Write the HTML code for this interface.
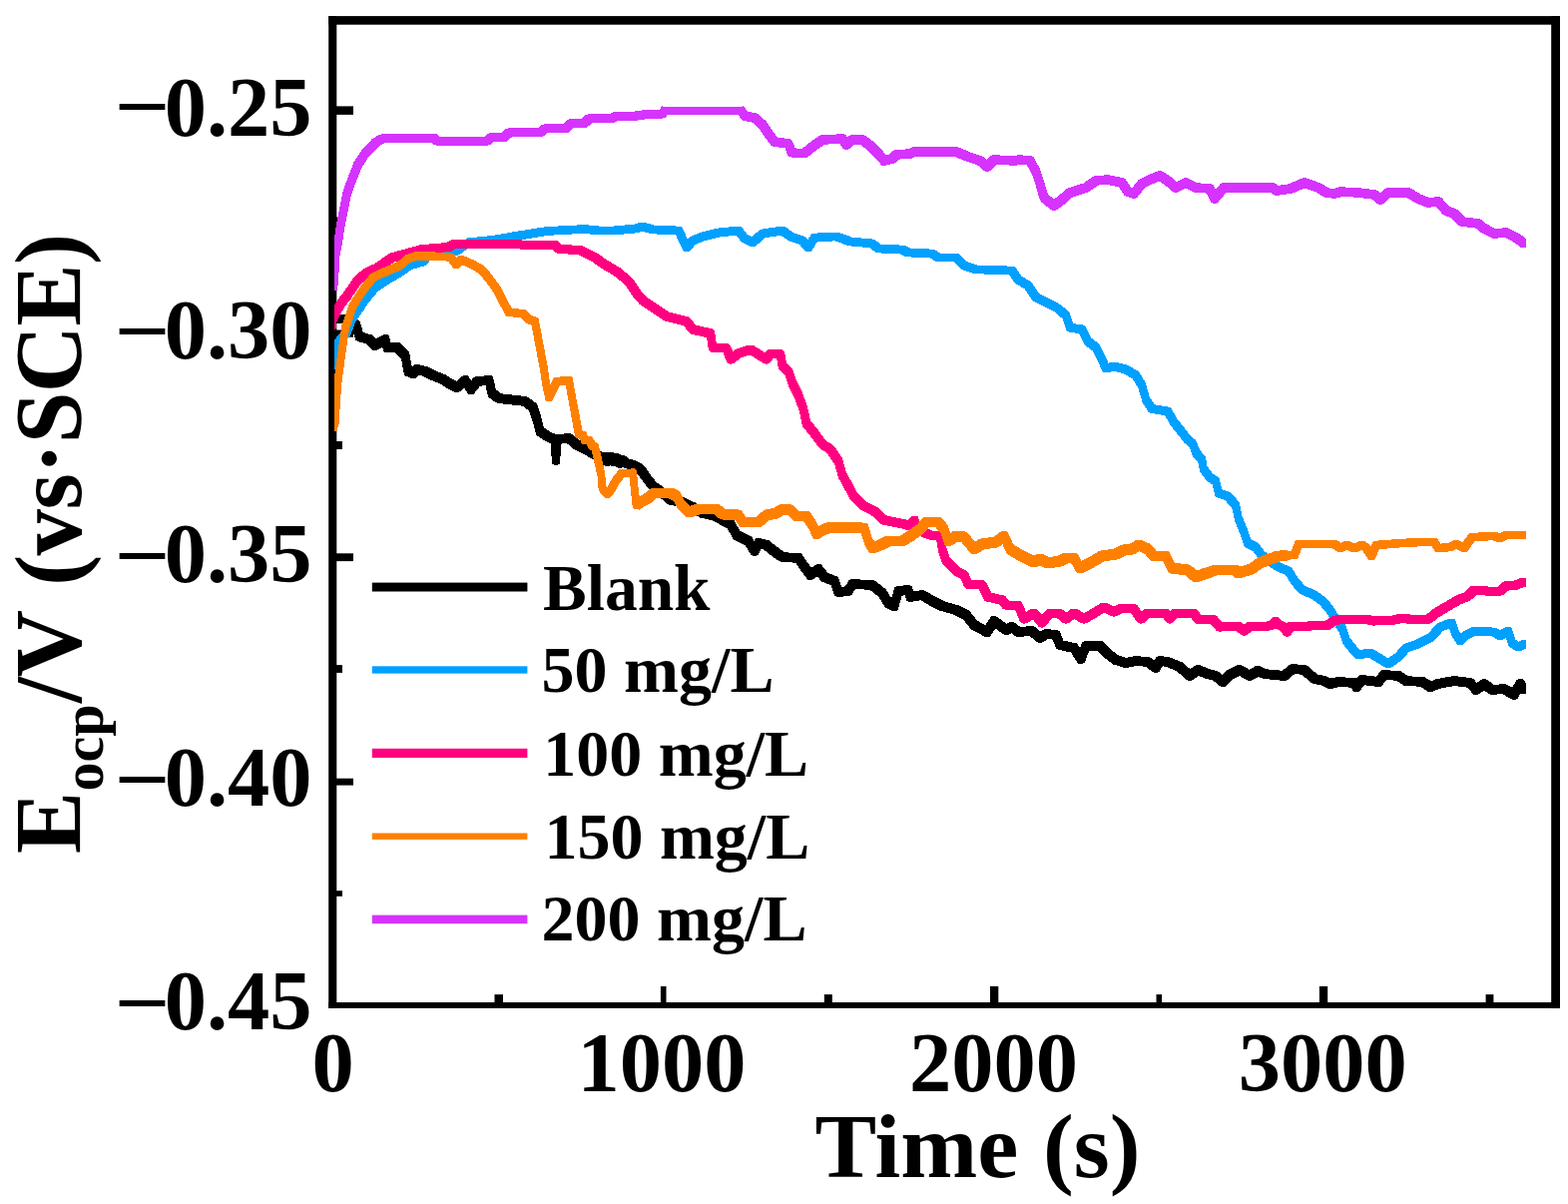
<!DOCTYPE html>
<html lang="en"><head><meta charset="utf-8"><title>OCP vs time</title>
<style>
html,body{margin:0;padding:0;background:#fff;}
body{width:1571px;height:1206px;overflow:hidden;}
svg{display:block;}
text{font-family:"Liberation Serif","DejaVu Serif",serif;font-weight:bold;fill:#000;}
.c{fill:none;stroke-linejoin:miter;stroke-miterlimit:2;stroke-linecap:butt;}
</style></head><body>
<svg width="1571" height="1206" viewBox="0 0 1571 1206">
<rect x="0" y="0" width="1571" height="1206" fill="#fff"/>
<g fill="#000">
<rect x="329.2" y="16.1" width="8.1" height="993.8"/>
<rect x="1554.2" y="16.1" width="8.8" height="993.8"/>
<rect x="329.2" y="16.1" width="1233.8" height="8.6"/>
<rect x="329.2" y="1004.0" width="1233.8" height="5.9"/>
<rect x="336.3" y="106.4" width="17.7" height="8.5"/>
<rect x="336.3" y="330.5" width="17.7" height="7.2"/>
<rect x="336.3" y="554.3" width="17.7" height="7.8"/>
<rect x="336.3" y="779.7" width="17.7" height="6.9"/>
<rect x="336.3" y="217.5" width="6.7" height="6"/>
<rect x="336.3" y="442" width="6.7" height="8"/>
<rect x="336.3" y="666.1" width="6.7" height="7.8"/>
<rect x="336.3" y="892.2" width="6.7" height="5.6"/>
<rect x="661.9" y="987.9" width="5.6" height="17.1"/>
<rect x="992.0" y="987.9" width="8.3" height="17.1"/>
<rect x="1321.9" y="987.9" width="8.3" height="17.1"/>
<rect x="495.5" y="996.1" width="8.5" height="8.9"/>
<rect x="825.8" y="996.1" width="8" height="8.9"/>
<rect x="1158.5" y="996.1" width="5.6" height="8.9"/>
<rect x="1488.6" y="996.1" width="7.8" height="8.9"/>
</g>
<g shape-rendering="crispEdges" fill-rule="evenodd" stroke="none">
<path fill="#000000" d="M1526.6,681.3L1525.6,680.5L1524.4,680.2L1521.6,680.2L1520.2,680.6L1519.1,681.7L1515.2,688.8L1509.8,685.6L1508.4,685.2L1505.4,685.2L1496.9,685.9L1490.1,680.8L1488.4,680.2L1485.6,680.2L1483.9,680.8L1479.7,683.9L1476.5,680.2L1474.7,679.2L1458.7,677.2L1455.6,677.2L1439.1,680.2L1433.7,682.2L1427.9,678.6L1426.6,678.2L1411.3,677.3L1403.9,672.6L1402.6,672.2L1388.4,671.2L1385.6,671.2L1384.4,671.5L1383.5,672.2L1378.7,677.7L1366.7,676.2L1363.6,676.2L1362.4,676.5L1361.5,677.2L1359.5,679.5L1358.6,679.2L1342.6,678.2L1339.6,678.2L1333.8,679.6L1328.9,677.3L1319.7,675.4L1310.3,666.9L1308.6,666.2L1296.4,665.2L1293.6,665.2L1291.8,665.9L1285.0,671.8L1269.1,670.3L1262.5,667.4L1261.4,667.2L1258.6,667.2L1257.1,667.6L1251.9,670.9L1244.8,666.6L1243.4,666.2L1240.6,666.2L1239.4,666.5L1229.4,671.5L1228.6,672.0L1224.7,675.9L1221.2,672.9L1220.1,672.3L1212.2,670.3L1202.4,666.4L1201.4,666.2L1198.6,666.2L1196.9,666.8L1192.3,670.2L1185.3,663.9L1184.5,663.4L1171.7,658.2L1163.7,657.2L1160.6,657.2L1159.2,657.6L1158.2,658.6L1156.6,661.4L1153.1,658.8L1151.6,658.2L1139.6,657.2L1136.6,657.2L1128.4,658.8L1120.7,656.5L1113.2,650.9L1105.4,643.0L1104.5,642.4L1103.4,642.2L1086.6,642.2L1085.0,642.7L1084.0,644.0L1082.0,649.1L1079.8,645.5L1079.0,644.7L1078.0,644.3L1065.4,641.6L1062.0,633.0L1061.1,631.8L1059.7,631.2L1049.7,630.2L1046.6,630.2L1045.1,630.7L1042.4,632.4L1037.2,627.9L1035.4,627.2L1032.4,627.2L1022.1,627.9L1017.2,623.9L1015.4,623.2L1012.6,623.2L1011.4,623.5L1008.6,624.9L999.1,617.8L997.4,617.2L994.6,617.2L993.3,617.5L992.2,618.5L987.4,626.2L979.2,621.8L971.6,612.3L970.6,611.5L960.2,606.3L946.4,602.4L936.7,597.5L926.8,591.6L925.4,591.2L922.6,591.2L915.3,592.4L914.1,588.2L913.1,586.8L911.4,586.2L908.3,586.2L898.3,587.2L896.8,587.9L895.9,589.3L893.2,599.5L887.8,590.6L887.1,589.8L877.1,581.8L875.5,581.2L855.5,580.2L852.6,580.2L851.2,580.6L850.2,581.6L846.9,587.4L843.2,587.7L840.0,579.1L839.4,578.1L838.4,577.4L829.2,573.7L823.6,566.3L822.6,565.5L821.4,565.2L818.6,565.2L816.9,565.8L813.0,568.8L809.7,564.4L803.7,555.5L802.8,554.6L801.6,554.2L786.3,553.3L781.0,549.7L771.1,541.8L770.1,541.3L762.1,539.3L758.6,539.2L757.1,539.6L756.1,540.8L755.6,541.7L753.8,538.6L752.6,537.5L741.4,531.9L735.9,521.7L734.6,520.5L726.7,516.5L718.8,512.1L718.0,511.8L706.4,509.4L696.8,503.6L692.6,502.0L684.8,497.6L683.5,497.2L675.5,496.8L667.2,489.9L657.4,482.7L652.3,476.3L646.2,467.4L645.6,466.8L640.4,462.9L635.4,460.9L630.7,459.9L627.2,456.9L625.4,456.2L622.6,456.2L622.3,456.3L621.8,455.6L620.8,454.6L619.4,454.2L616.0,454.3L614.8,453.1L613.4,452.7L610.6,452.7L609.3,453.0L609.0,453.3L608.7,453.0L607.4,452.7L604.6,452.7L603.3,453.1L602.6,452.5L595.7,449.1L587.6,444.5L579.9,440.7L573.2,434.9L571.4,434.2L568.4,434.2L557.6,435.1L552.6,433.5L544.9,428.3L542.1,417.1L538.1,405.1L537.1,403.8L529.1,397.8L527.7,397.2L502.4,394.3L496.9,390.3L494.1,378.4L493.6,377.3L492.6,376.5L491.4,376.2L488.4,376.2L476.4,377.2L475.3,377.6L474.4,378.3L472.2,381.2L469.7,377.5L468.7,376.5L467.4,376.2L464.6,376.2L462.8,376.9L457.2,381.8L452.8,379.6L446.4,375.4L436.5,371.4L428.1,367.3L420.1,365.3L416.6,365.2L415.5,365.4L414.6,366.0L412.8,367.8L410.2,353.5L409.4,352.0L401.4,344.0L400.5,343.4L399.4,343.2L391.6,343.2L390.1,337.3L389.6,336.2L388.6,335.5L387.4,335.2L384.6,335.2L383.2,335.6L376.8,339.4L373.4,336.0L372.2,335.3L363.7,332.8L361.1,323.3L360.3,321.9L355.3,317.4L354.2,316.8L346.4,314.5L335.0,314.5L335.0,324.1L343.2,324.1L349.2,326.0L353.1,329.5L355.9,339.7L356.6,340.9L357.8,341.7L367.1,344.5L372.6,350.0L373.5,350.6L374.6,350.8L377.4,350.8L378.8,350.4L383.2,347.8L383.9,350.7L384.4,351.8L385.4,352.5L386.6,352.8L395.5,352.8L402.0,359.4L404.8,374.5L405.4,375.8L406.6,376.6L411.6,378.6L412.6,378.8L415.4,378.8L416.5,378.6L417.4,378.0L419.7,375.7L423.6,376.6L431.6,380.6L441.3,384.5L447.4,388.5L455.4,392.5L456.6,392.8L459.4,392.8L461.2,392.1L465.1,388.7L468.3,393.5L469.3,394.5L470.6,394.8L473.4,394.8L474.6,394.5L475.6,393.7L480.9,386.7L486.5,386.2L488.9,396.6L490.0,398.3L497.0,403.3L498.3,403.8L523.5,406.7L530.2,411.7L533.9,422.8L536.9,434.7L538.1,436.3L547.1,442.3L551.9,444.0L552.8,463.1L553.2,464.5L554.3,465.4L555.6,465.8L558.4,465.8L559.7,465.4L560.8,464.5L561.2,463.1L562.1,444.6L567.9,444.1L574.4,449.5L582.3,453.5L590.4,458.1L596.7,461.2L599.3,465.0L600.3,466.0L601.6,466.3L604.4,466.3L605.7,465.9L606.3,466.5L607.6,466.8L610.4,466.8L611.7,466.4L612.2,466.9L613.6,467.3L617.0,467.2L618.2,468.4L619.6,468.8L622.4,468.8L624.2,468.1L624.8,468.6L626.1,469.2L630.8,470.2L635.2,471.9L639.0,474.9L645.1,483.7L650.9,490.9L660.9,498.2L669.8,505.6L671.5,506.3L679.8,506.8L687.2,510.9L691.4,512.5L701.2,518.4L702.0,518.7L713.6,521.2L721.2,525.4L728.6,529.1L734.1,539.3L735.4,540.5L746.6,546.1L752.2,555.4L753.2,556.4L754.6,556.8L757.4,556.8L758.9,556.4L759.9,555.2L762.6,549.9L765.3,550.6L774.9,558.2L781.1,562.3L782.4,562.8L797.1,563.7L802.4,571.7L808.4,579.7L809.4,580.5L810.6,580.8L813.4,580.8L815.1,580.2L819.0,577.2L822.4,581.7L823.6,582.6L832.4,586.1L836.0,595.9L837.0,597.3L838.6,597.8L841.7,597.8L851.7,596.8L852.9,596.3L853.8,595.4L856.9,590.0L871.6,590.8L880.5,597.9L886.2,607.4L887.4,608.5L893.4,611.5L894.6,611.8L897.4,611.8L898.6,611.5L899.5,610.8L900.1,609.7L903.6,596.6L906.6,596.3L907.9,600.8L908.9,602.2L910.6,602.8L913.4,602.8L922.7,601.3L931.4,606.5L941.4,611.5L955.6,615.6L964.8,620.2L972.4,629.7L973.3,630.5L986.3,637.5L987.6,637.8L990.4,637.8L991.7,637.5L992.8,636.5L997.2,629.5L1004.9,635.2L1006.6,635.8L1009.4,635.8L1010.6,635.5L1013.3,634.2L1016.8,637.1L1018.6,637.8L1021.6,637.8L1031.9,637.1L1038.8,643.1L1040.6,643.8L1043.4,643.8L1044.9,643.3L1049.7,640.1L1054.6,640.6L1058.0,649.0L1058.8,650.1L1060.0,650.7L1072.9,653.5L1079.2,663.5L1080.3,664.5L1081.6,664.8L1084.4,664.8L1086.0,664.3L1087.0,663.0L1091.3,651.8L1099.5,651.8L1106.6,659.0L1114.9,665.2L1115.8,665.7L1125.8,668.7L1129.9,668.7L1138.7,667.0L1147.6,667.7L1154.9,673.2L1156.6,673.8L1159.4,673.8L1160.8,673.4L1161.8,672.4L1164.7,667.3L1167.9,667.7L1179.1,672.4L1188.7,681.1L1190.6,681.8L1193.4,681.8L1195.1,681.2L1200.8,676.9L1207.9,679.7L1215.3,681.6L1221.8,687.1L1223.6,687.8L1226.4,687.8L1227.5,687.6L1228.4,687.0L1235.0,680.3L1241.8,676.9L1249.2,681.4L1250.6,681.8L1253.4,681.8L1254.9,681.4L1260.5,677.9L1265.3,679.8L1285.3,681.8L1288.4,681.8L1290.2,681.1L1297.1,675.1L1304.4,675.7L1313.7,684.1L1315.1,684.7L1324.7,686.7L1330.4,689.5L1331.6,689.8L1335.1,689.7L1342.1,688.0L1353.8,688.7L1355.1,691.2L1356.1,692.4L1357.6,692.8L1360.4,692.8L1361.6,692.5L1362.5,691.8L1367.3,686.3L1379.3,687.8L1382.4,687.8L1383.6,687.5L1384.5,686.8L1389.4,681.1L1398.7,681.7L1406.1,686.4L1407.4,686.8L1422.7,687.7L1430.1,692.4L1431.6,692.8L1434.4,692.8L1435.4,692.6L1443.1,689.7L1457.4,687.0L1470.2,688.6L1475.5,694.8L1476.4,695.5L1477.6,695.8L1480.4,695.8L1482.1,695.2L1487.0,691.5L1491.9,695.2L1493.6,695.8L1496.6,695.8L1505.3,695.1L1514.2,700.4L1515.6,700.8L1518.4,700.8L1519.8,700.4L1520.9,699.3L1523.8,694.0L1524.4,694.5L1525.6,694.8L1528.4,694.8L1529.3,694.6L1529.3,684.7Z"/>
<path fill="#00A0FF" d="M515.2,232.2L498.3,235.2L482.4,237.2L469.4,238.2L468.4,238.5L462.4,242.0L455.7,246.8L426.1,252.8L424.7,253.6L421.2,258.0L408.0,261.8L407.2,262.1L397.3,269.1L385.3,276.1L373.3,284.1L362.1,297.3L356.9,305.3L351.3,313.3L348.0,318.5L346.3,324.3L343.6,330.7L338.6,335.7L335.0,341.0L335.0,370.3L336.5,370.0L337.3,369.3L337.8,368.2L339.3,358.4L342.1,346.9L345.2,342.4L350.1,337.6L350.6,336.8L353.6,329.8L355.3,323.9L363.7,311.8L368.8,303.8L379.0,291.7L390.7,283.9L402.8,276.9L412.4,270.1L426.0,266.2L427.3,265.4L430.7,261.1L459.8,255.3L460.8,254.8L467.7,249.9L473.1,246.8L485.7,245.8L501.7,243.8L518.8,240.8L549.6,235.8L584.5,233.9L598.6,235.3L615.4,235.3L638.6,233.3L643.9,231.8L652.5,234.3L677.0,235.2L680.5,243.0L684.5,251.0L685.4,251.9L686.6,252.3L689.4,252.3L690.4,252.1L691.2,251.5L696.8,244.9L706.1,241.2L721.8,237.3L737.7,235.7L742.7,242.3L743.5,243.0L751.5,247.0L752.6,247.3L755.4,247.3L757.0,246.7L766.5,238.2L782.4,235.8L789.9,241.2L801.2,245.0L806.8,251.5L807.6,252.1L808.6,252.3L811.4,252.3L812.6,252.0L813.5,251.1L818.8,242.2L836.6,241.4L850.4,246.3L871.7,248.2L877.1,252.7L878.5,253.3L902.0,254.3L907.5,257.0L908.5,257.3L931.8,258.3L937.3,261.9L938.6,262.3L955.6,262.3L962.9,269.6L963.9,270.2L975.9,274.2L1011.3,275.3L1016.6,283.2L1017.4,284.0L1026.9,289.7L1034.6,301.2L1035.5,302.0L1057.3,312.9L1064.5,319.3L1068.3,330.6L1069.0,331.7L1070.2,332.3L1081.0,334.1L1086.5,345.0L1087.2,345.8L1094.7,351.5L1100.4,362.9L1104.4,371.9L1105.3,372.9L1106.6,373.3L1109.4,373.3L1116.0,371.7L1125.7,374.1L1134.9,379.6L1140.4,388.8L1144.6,403.2L1150.6,412.7L1151.3,413.4L1152.3,413.8L1167.1,416.1L1172.2,425.4L1180.2,435.4L1186.2,443.3L1191.6,447.8L1194.8,456.7L1195.3,457.5L1200.4,463.0L1202.2,472.4L1202.7,473.3L1208.7,481.3L1209.3,481.9L1214.5,485.4L1217.3,496.5L1217.8,497.5L1218.9,498.2L1227.2,501.0L1234.4,509.0L1237.4,522.8L1242.4,534.7L1246.3,546.6L1247.5,548.0L1255.0,551.8L1261.2,559.8L1269.3,565.9L1278.3,571.9L1288.0,575.8L1293.8,585.5L1301.8,594.5L1302.7,595.1L1314.4,600.0L1322.0,605.7L1328.7,613.3L1334.6,623.3L1341.4,633.0L1345.3,644.6L1345.7,645.4L1353.7,655.4L1357.9,659.6L1358.7,660.1L1359.6,660.3L1362.4,660.3L1371.7,658.8L1388.3,668.9L1389.6,669.3L1392.4,669.3L1393.8,668.9L1403.8,661.9L1411.8,653.0L1423.5,649.0L1436.5,642.0L1437.2,641.5L1445.8,632.0L1451.9,629.8L1454.6,637.2L1459.6,645.2L1460.4,646.0L1461.6,646.3L1464.4,646.3L1465.3,646.1L1466.1,645.6L1471.8,639.9L1478.6,636.5L1494.8,637.3L1500.3,640.9L1501.6,641.3L1504.4,641.3L1505.7,640.9L1508.8,639.0L1511.3,646.6L1512.3,647.9L1518.3,651.9L1519.6,652.3L1522.4,652.3L1523.3,652.1L1529.3,649.5L1529.3,640.7L1526.6,640.7L1525.7,640.9L1521.6,642.7L1518.4,640.6L1514.7,629.4L1513.8,628.2L1512.4,627.7L1509.6,627.7L1508.3,628.1L1503.1,631.4L1499.7,629.1L1498.5,628.7L1478.5,627.7L1475.6,627.7L1474.5,628.0L1466.5,632.0L1463.8,634.6L1461.6,631.1L1458.2,621.3L1457.3,620.1L1455.9,619.7L1453.1,619.7L1452.3,619.8L1440.8,623.8L1439.8,624.5L1431.1,634.2L1418.7,640.9L1406.9,644.8L1405.8,645.5L1398.0,654.3L1390.8,659.3L1375.6,650.0L1374.4,649.7L1371.2,649.7L1362.8,651.1L1360.2,648.5L1352.5,638.9L1348.4,626.7L1341.4,616.8L1335.5,606.9L1328.2,598.5L1319.3,591.9L1307.8,587.1L1300.3,578.7L1294.5,568.9L1293.3,567.9L1283.5,564.0L1274.8,558.1L1267.1,552.4L1261.3,544.7L1260.5,544.0L1253.4,540.4L1249.6,529.2L1244.7,517.4L1241.7,503.6L1241.2,502.5L1233.2,493.5L1232.1,492.8L1224.4,490.2L1221.7,479.5L1220.7,478.1L1215.1,474.3L1209.6,467.1L1207.8,457.6L1207.2,456.5L1202.0,450.8L1198.7,441.8L1197.9,440.7L1192.6,436.4L1186.8,428.6L1178.9,418.8L1173.5,409.0L1172.8,408.1L1171.7,407.7L1156.8,405.4L1151.6,397.1L1147.7,383.5L1141.5,372.9L1140.6,372.0L1130.0,365.8L1117.4,362.7L1114.0,362.8L1110.5,363.7L1107.5,357.0L1101.5,345.0L1100.8,344.2L1093.3,338.5L1087.5,327.0L1086.8,326.2L1085.8,325.7L1075.2,324.0L1071.7,313.4L1071.0,312.3L1062.5,305.0L1041.0,294.2L1033.4,282.8L1032.6,282.0L1023.1,276.3L1017.4,267.8L1016.5,267.0L1015.4,266.7L979.8,265.7L968.7,262.0L961.1,254.4L960.3,253.9L959.4,253.7L942.1,253.7L936.7,250.1L935.5,249.7L912.0,248.7L906.5,246.0L905.5,245.7L882.3,244.7L876.9,240.3L875.6,239.7L853.9,237.7L840.2,232.8L839.4,232.7L814.5,233.7L813.4,234.0L812.5,234.9L809.4,240.1L807.2,237.5L806.1,236.8L794.5,232.9L786.8,227.2L785.4,226.7L782.3,226.7L762.3,229.7L761.0,230.3L753.2,237.3L749.0,235.2L743.3,227.7L742.5,227.0L741.4,226.7L738.4,226.7L718.4,228.7L701.7,232.9L691.7,236.9L690.8,237.5L688.9,239.7L683.6,228.1L682.7,227.1L681.5,226.7L655.8,225.7L645.4,222.7L642.0,222.8L635.2,224.7L612.5,226.7L601.5,226.7L586.6,225.2L583.6,225.2L546.5,227.2Z"/>
<path fill="#FF0080" d="M1528.4,578.5L1525.6,578.5L1524.7,578.6L1517.0,581.5L1507.3,582.5L1505.8,583.1L1500.6,587.5L1490.5,587.5L1478.4,586.5L1475.6,586.5L1474.6,586.7L1473.7,587.3L1468.1,592.9L1458.2,596.8L1436.2,609.8L1428.6,615.8L1417.9,616.3L1406.8,614.5L1403.6,614.5L1395.2,616.5L1378.0,617.3L1368.4,615.5L1340.6,616.0L1334.0,617.5L1333.0,618.0L1327.7,622.0L1291.5,623.0L1290.3,623.3L1289.2,624.3L1288.6,623.7L1284.9,621.9L1281.2,618.6L1279.4,618.0L1276.6,618.0L1274.8,618.6L1271.2,621.8L1269.1,622.5L1250.6,623.0L1248.9,623.6L1246.5,625.5L1244.1,623.6L1242.6,623.0L1235.6,622.5L1232.6,622.5L1224.4,623.1L1219.5,617.4L1218.6,616.7L1217.5,616.5L1202.9,615.5L1199.7,610.7L1198.7,609.8L1197.4,609.5L1176.6,609.5L1175.6,609.7L1174.7,610.3L1172.7,612.2L1171.7,610.7L1170.7,609.8L1169.4,609.5L1148.6,609.5L1146.8,610.1L1143.9,612.7L1139.6,606.6L1138.8,605.8L1137.6,605.5L1125.6,604.5L1122.6,604.5L1121.4,604.7L1116.0,607.4L1108.6,603.7L1107.4,603.5L1104.6,603.5L1103.2,603.9L1095.2,608.8L1086.0,614.2L1078.8,609.8L1077.4,609.5L1074.6,609.5L1073.0,610.0L1068.2,613.6L1065.2,611.1L1063.7,610.5L1053.7,609.5L1050.6,609.5L1049.4,609.7L1048.5,610.5L1044.0,616.1L1039.5,610.5L1038.6,609.7L1037.4,609.5L1034.6,609.5L1033.2,609.8L1028.1,612.9L1023.9,603.1L1022.9,601.9L1021.4,601.5L1010.7,601.5L1007.5,597.5L1006.0,596.5L993.3,593.8L987.9,583.0L986.9,581.9L985.6,581.5L973.2,580.6L969.9,573.1L968.6,571.7L961.0,567.9L951.8,558.7L948.1,547.6L946.1,533.8L945.6,532.6L944.6,531.8L943.4,531.5L933.9,531.5L921.8,526.2L920.1,518.6L919.6,517.5L918.6,516.7L917.4,516.5L914.6,516.5L913.3,516.8L912.3,517.7L909.9,521.2L905.9,520.0L888.7,516.6L878.6,507.7L867.0,501.9L859.6,494.5L848.0,473.2L844.0,459.5L843.7,458.7L835.7,446.7L834.8,445.9L827.3,441.2L819.6,430.6L812.0,421.0L809.0,407.3L804.0,393.3L797.9,381.2L794.0,369.3L793.2,368.1L787.9,363.8L786.1,352.8L785.3,351.2L783.7,350.5L773.7,349.5L770.6,349.5L769.3,349.8L768.3,350.7L766.6,353.2L754.8,345.9L753.4,345.5L750.6,345.5L749.7,345.6L737.7,349.6L734.1,352.1L732.0,346.3L731.0,345.0L729.6,344.5L717.8,343.6L716.1,331.8L715.4,330.3L714.0,329.5L697.0,325.7L691.6,318.6L690.0,317.5L670.5,312.6L647.2,297.1L641.6,290.5L633.7,278.7L621.2,268.1L608.9,260.9L598.6,253.7L584.6,246.7L583.6,246.5L562.5,244.5L559.2,241.6L557.4,241.0L523.5,240.5L511.4,239.8L452.6,240.3L451.1,240.7L447.7,243.0L421.4,245.2L402.3,250.5L390.8,253.5L389.9,254.0L374.9,264.5L367.1,267.7L360.4,272.3L353.5,279.4L349.7,285.1L347.5,287.7L344.4,292.6L338.9,299.5L335.0,306.0L335.0,330.3L335.5,330.2L336.5,329.2L336.9,327.9L337.1,323.4L338.9,319.5L342.1,313.1L346.2,306.4L351.6,299.5L354.8,294.4L357.0,291.8L360.7,286.2L366.5,280.3L372.7,276.0L380.5,272.8L395.5,262.3L406.5,259.4L425.4,254.1L451.6,252.0L452.9,251.6L456.2,249.3L508.9,248.9L520.6,249.5L553.6,250.0L556.8,252.9L558.4,253.5L579.9,255.5L593.2,262.2L603.2,269.2L615.0,276.1L626.5,285.6L634.3,297.3L640.5,304.6L665.1,321.1L666.0,321.5L685.0,326.2L690.4,333.4L692.0,334.5L708.1,338.1L709.9,350.2L710.3,351.3L711.2,352.2L712.4,352.5L724.6,353.4L728.0,362.7L729.0,364.0L730.6,364.5L733.4,364.5L735.0,364.0L742.7,358.3L751.2,355.4L765.2,364.1L766.6,364.5L769.4,364.5L770.7,364.2L771.7,363.3L774.6,359.0L778.2,359.3L779.9,369.2L780.8,370.9L786.2,375.4L790.1,387.0L796.1,398.9L801.0,412.5L803.9,426.4L804.5,427.5L812.4,437.5L820.4,448.4L821.2,449.1L828.6,453.8L836.1,465.0L840.2,479.1L852.7,501.7L860.7,509.7L861.4,510.3L873.0,516.1L882.8,524.8L884.1,525.5L901.9,529.0L909.8,531.4L913.7,531.5L913.9,532.4L914.5,533.5L915.5,534.3L929.5,540.3L930.6,540.5L938.2,540.5L940.0,552.7L944.0,564.7L944.7,565.7L954.7,575.7L955.4,576.3L962.5,579.8L966.1,587.9L967.0,589.0L968.4,589.5L980.9,590.4L986.1,601.0L986.9,602.0L988.0,602.5L1001.1,605.3L1004.5,609.5L1005.4,610.3L1006.6,610.5L1016.8,610.5L1022.1,622.9L1023.1,624.1L1024.6,624.5L1027.4,624.5L1028.8,624.2L1034.9,620.5L1040.5,627.5L1041.4,628.3L1042.6,628.5L1045.4,628.5L1046.6,628.3L1047.5,627.5L1054.4,618.9L1059.5,619.5L1064.8,623.9L1066.6,624.5L1069.4,624.5L1071.0,624.0L1076.3,620.0L1083.2,624.2L1084.6,624.5L1087.4,624.5L1088.8,624.2L1100.8,617.2L1106.3,613.7L1113.4,617.3L1114.6,617.5L1117.4,617.5L1118.6,617.3L1125.5,613.8L1133.1,614.4L1139.4,623.4L1140.3,624.2L1141.6,624.5L1144.4,624.5L1146.2,623.9L1152.4,618.5L1165.1,618.5L1168.3,623.3L1169.3,624.2L1170.6,624.5L1173.4,624.5L1174.4,624.3L1175.3,623.7L1180.5,618.5L1193.1,618.5L1196.3,623.3L1197.2,624.2L1198.5,624.5L1213.3,625.5L1218.5,631.6L1219.5,632.3L1220.6,632.5L1223.6,632.5L1234.1,631.7L1238.5,632.0L1243.4,635.9L1245.1,636.5L1247.9,636.5L1249.6,635.9L1254.4,632.0L1272.4,631.5L1276.3,630.4L1278.0,629.2L1279.4,630.3L1282.8,631.9L1285.9,636.4L1286.8,637.2L1288.1,637.5L1290.9,637.5L1292.2,637.2L1293.2,636.3L1295.9,632.0L1331.4,631.0L1333.0,630.5L1338.6,626.3L1343.7,625.0L1365.6,624.6L1375.1,626.5L1378.4,626.5L1398.5,625.5L1405.4,623.9L1415.6,625.5L1432.5,624.8L1434.1,624.3L1441.9,618.1L1463.6,605.3L1473.4,601.4L1474.3,600.7L1479.2,595.9L1487.6,596.5L1504.4,596.5L1506.2,595.9L1511.5,591.5L1520.7,590.5L1529.3,587.4L1529.3,578.7Z"/>
<path fill="#FF8000" d="M637.8,471.6L637.4,470.5L636.5,469.7L635.4,469.4L621.5,469.9L620.5,470.2L619.7,470.8L613.7,478.3L609.6,486.0L608.4,487.7L607.2,486.4L606.2,473.8L601.5,452.8L599.7,445.7L598.7,444.3L596.2,442.6L593.5,438.1L592.6,437.2L591.4,436.9L589.0,436.9L587.6,433.4L587.0,432.5L586.0,432.0L583.5,431.3L576.8,395.9L573.8,378.9L573.3,377.9L572.5,377.2L571.4,376.9L568.6,376.9L556.4,377.9L555.3,378.3L554.5,379.2L551.5,385.2L550.8,381.9L548.8,367.9L539.8,319.9L539.2,318.7L538.1,318.0L532.7,316.2L527.1,310.6L525.5,309.9L512.9,309.0L507.5,299.2L501.3,286.9L491.6,273.7L485.5,266.7L484.9,266.2L475.3,260.8L464.3,256.1L463.4,255.9L460.6,255.9L459.7,256.1L458.9,256.6L457.5,258.0L455.3,254.9L453.8,253.9L447.9,252.9L432.4,252.4L415.3,252.5L406.1,255.4L405.1,256.0L400.0,261.1L394.3,264.1L385.3,267.7L377.6,271.1L371.3,274.4L370.6,275.0L361.5,286.1L353.2,298.8L349.3,305.3L345.1,318.4L342.5,325.2L340.5,338.0L335.2,376.0L335.0,378.6L335.0,432.1L336.8,431.6L337.7,430.4L339.8,423.8L340.8,403.8L342.8,379.9L348.1,342.0L350.0,329.6L352.5,323.3L356.4,310.9L360.0,304.8L368.2,292.2L376.7,281.8L382.4,278.9L389.9,275.5L399.0,271.9L405.3,268.5L410.9,263.2L419.1,260.6L429.6,260.6L444.8,261.1L449.2,261.9L453.7,268.1L454.5,268.8L455.6,269.1L458.4,269.1L459.3,268.9L460.1,268.4L463.1,265.4L470.5,268.6L479.4,273.6L485.1,280.2L494.6,293.0L500.5,304.8L506.5,315.8L507.3,316.7L508.5,317.1L521.5,318.0L526.9,323.4L527.9,324.0L532.5,325.5L541.2,372.1L543.3,386.2L546.3,400.2L546.7,401.2L547.6,401.9L548.6,402.1L551.4,402.1L552.6,401.7L553.5,400.8L560.9,386.0L566.7,385.5L574.2,427.1L576.2,437.2L576.9,438.3L578.0,439.0L580.8,439.7L582.4,443.6L583.3,444.7L584.6,445.1L587.3,445.1L589.5,448.9L590.3,449.7L592.5,451.2L594.1,457.2L598.7,478.0L599.7,490.9L600.3,492.2L605.4,498.2L606.2,498.9L607.2,499.1L610.0,499.1L611.1,498.8L611.9,498.1L616.3,492.1L620.4,484.5L625.6,478.0L630.5,477.8L633.7,507.9L634.1,509.0L635.0,509.8L636.1,510.1L638.9,510.1L640.0,509.8L640.0,511.1L644.6,508.0L652.6,503.6L657.3,499.4L670.1,499.4L674.8,501.8L678.9,509.7L686.9,517.7L687.7,518.2L688.6,518.4L692.1,518.3L701.7,515.4L715.7,515.4L721.1,519.8L722.5,520.4L737.2,521.3L740.5,527.2L741.4,528.1L742.6,528.4L761.4,528.4L763.0,527.8L770.5,521.2L779.9,519.4L780.7,519.0L785.5,515.8L789.5,516.3L794.9,521.7L795.7,522.2L796.6,522.4L805.3,522.4L810.5,530.1L814.4,539.0L815.3,540.0L816.6,540.4L819.4,540.4L820.7,540.0L826.5,536.1L833.6,533.5L862.8,534.3L866.5,546.2L870.5,553.2L871.4,554.1L872.6,554.4L876.2,554.2L884.2,551.2L891.9,547.4L905.4,547.4L906.7,547.0L914.8,542.0L924.8,535.0L930.5,528.4L937.5,528.4L942.5,534.2L946.3,545.7L947.2,546.9L948.6,547.4L951.4,547.4L952.7,547.0L959.5,542.8L963.4,543.3L972.8,554.5L973.6,555.2L974.6,555.4L977.4,555.4L978.7,555.0L986.2,550.3L999.7,548.4L1000.8,547.9L1004.4,545.2L1008.4,554.0L1009.4,555.1L1019.5,561.1L1033.5,568.1L1034.6,568.4L1037.4,568.4L1038.5,568.1L1042.0,566.4L1047.5,569.1L1048.6,569.4L1051.8,569.4L1063.8,567.4L1069.9,564.4L1073.3,564.4L1078.5,573.2L1079.4,574.1L1080.6,574.4L1083.4,574.4L1084.5,574.1L1096.5,568.1L1106.2,562.3L1119.7,560.4L1128.1,556.3L1135.7,555.4L1136.6,555.1L1141.3,552.4L1147.1,555.0L1152.8,561.6L1153.6,562.2L1154.6,562.4L1165.1,562.4L1170.5,573.1L1171.2,574.0L1172.3,574.4L1187.6,576.3L1195.0,582.8L1196.6,583.4L1200.2,583.2L1208.2,580.3L1219.8,576.4L1235.3,576.4L1236.6,578.3L1237.5,579.1L1238.6,579.4L1241.4,579.4L1256.0,575.3L1256.8,574.9L1264.6,569.1L1274.2,565.3L1282.8,562.4L1290.0,561.9L1290.0,560.7L1298.5,560.2L1299.8,559.7L1300.7,558.6L1304.1,549.2L1334.9,549.2L1340.3,552.8L1341.6,553.2L1344.4,553.2L1345.5,552.9L1349.3,551.0L1354.8,553.0L1355.6,553.2L1359.2,553.0L1364.1,551.2L1365.8,552.4L1370.6,560.1L1371.4,560.9L1372.6,561.2L1375.4,561.2L1376.7,560.8L1377.6,559.8L1382.0,550.1L1406.5,548.2L1426.4,547.2L1434.3,547.2L1437.6,552.1L1438.5,552.9L1439.6,553.2L1442.6,553.2L1454.6,552.2L1455.5,551.9L1459.0,550.2L1464.5,552.9L1465.6,553.2L1468.4,553.2L1469.5,552.9L1470.3,552.2L1477.7,542.1L1495.6,541.3L1500.9,543.1L1504.4,543.2L1505.5,542.9L1510.9,540.2L1529.3,540.2L1529.3,531.8L1507.6,531.8L1506.5,532.1L1502.5,534.1L1498.4,532.8L1473.5,533.8L1472.5,534.1L1471.7,534.8L1465.6,543.1L1461.5,541.1L1460.4,540.8L1457.6,540.8L1456.5,541.1L1451.0,543.8L1443.5,544.5L1440.4,539.9L1439.5,539.1L1438.4,538.8L1423.5,538.8L1403.4,539.8L1377.4,541.8L1376.2,542.2L1375.4,543.2L1373.4,547.6L1371.8,545.3L1367.8,542.3L1366.4,541.8L1362.8,542.0L1357.0,544.1L1351.2,542.0L1350.4,541.8L1347.6,541.8L1346.5,542.1L1343.4,543.6L1339.7,541.2L1338.4,540.8L1299.6,540.8L1298.2,541.2L1297.3,542.4L1293.9,551.9L1290.0,552.1L1290.0,550.9L1278.9,551.7L1269.7,554.8L1259.7,558.8L1251.5,564.8L1242.0,567.5L1241.4,566.7L1240.5,565.9L1239.4,565.6L1216.6,565.6L1203.9,569.7L1199.1,571.5L1193.0,566.2L1191.7,565.6L1177.0,563.8L1171.5,552.9L1170.6,552.0L1169.4,551.6L1158.5,551.6L1153.2,545.4L1152.4,544.8L1143.4,540.8L1142.4,540.6L1139.6,540.6L1138.4,540.9L1131.8,544.7L1124.3,545.6L1123.5,545.9L1115.9,549.7L1102.3,551.6L1101.4,551.9L1091.5,557.9L1083.7,561.8L1079.5,554.8L1078.6,553.9L1077.4,553.6L1066.6,553.6L1065.5,553.9L1059.9,556.7L1051.1,558.2L1044.5,554.9L1043.4,554.6L1040.6,554.6L1039.5,554.9L1036.0,556.6L1024.5,550.9L1015.3,545.3L1009.6,533.0L1008.7,532.0L1007.4,531.6L1004.6,531.6L1003.2,532.1L995.7,537.7L982.3,539.6L981.3,540.0L976.9,542.7L969.2,533.5L967.7,532.6L959.7,531.6L956.6,531.6L955.3,532.0L952.2,533.9L949.7,526.3L949.2,525.4L943.2,518.4L942.4,517.8L941.4,517.6L926.6,517.6L925.6,517.8L924.8,518.4L919.0,525.2L909.3,532.0L901.9,536.6L888.6,536.6L887.5,536.9L879.7,540.8L876.0,542.2L873.6,538.1L869.7,525.3L868.8,524.1L867.4,523.6L830.6,522.6L829.8,522.8L821.8,525.8L819.8,527.0L817.4,521.7L811.4,512.7L810.5,511.9L809.4,511.6L800.4,511.6L795.1,506.3L793.7,505.6L785.7,504.6L782.6,504.6L781.3,505.0L775.7,508.7L766.1,510.6L765.0,511.2L757.7,517.6L746.8,517.6L743.5,511.8L742.7,511.0L741.5,510.6L726.3,509.7L720.9,505.2L719.4,504.6L698.6,504.6L691.4,506.7L685.4,500.6L681.5,492.9L680.5,491.9L674.5,488.9L673.4,488.6L653.6,488.6L652.0,489.2L647.2,493.5L640.7,497.2L640.0,491.2L640.0,492.5Z"/>
<path fill="#D633FF" d="M1522.0,233.8L1511.6,228.6L1510.4,228.3L1507.4,228.3L1498.5,229.0L1489.9,224.7L1484.1,219.9L1482.7,219.3L1467.6,217.4L1460.3,210.1L1459.3,209.5L1452.0,206.7L1444.4,198.2L1443.5,197.5L1442.4,197.3L1439.6,197.3L1432.2,198.0L1423.6,194.6L1413.8,188.7L1412.4,188.3L1389.6,188.3L1387.8,189.0L1382.9,193.3L1380.1,190.9L1378.7,190.3L1362.7,188.3L1344.5,187.3L1341.6,187.3L1336.1,189.0L1331.3,188.4L1323.3,183.5L1309.3,178.5L1308.4,178.3L1305.6,178.3L1304.6,178.5L1290.9,184.4L1280.7,185.8L1278.0,183.8L1276.4,183.3L1224.6,183.3L1223.5,183.6L1222.5,184.3L1217.9,190.0L1215.8,185.8L1214.9,184.8L1213.6,184.3L1200.1,183.3L1190.6,178.6L1189.4,178.3L1186.6,178.3L1185.4,178.6L1178.8,181.9L1172.8,176.7L1164.8,171.7L1163.4,171.3L1160.6,171.3L1159.6,171.5L1149.6,175.5L1141.4,179.6L1140.5,180.3L1134.3,188.1L1133.1,187.7L1127.6,179.5L1125.9,178.4L1111.4,175.3L1108.4,175.3L1096.4,176.3L1095.1,176.8L1085.4,183.6L1069.8,188.4L1068.8,189.0L1060.9,195.9L1056.1,199.5L1049.8,194.4L1046.0,181.3L1042.0,169.2L1035.8,157.7L1034.9,156.8L1033.6,156.3L1023.4,155.3L1020.2,155.3L1015.1,156.2L997.5,155.3L994.6,155.3L992.7,156.1L988.8,160.0L985.1,157.0L984.2,156.4L972.3,152.5L960.4,147.5L959.4,147.3L914.6,147.3L913.4,147.6L909.9,149.3L896.4,150.3L894.7,151.1L891.2,154.6L887.9,155.4L883.3,150.1L875.3,142.1L867.0,135.8L865.4,135.3L852.6,135.3L850.9,135.9L849.0,137.5L847.6,135.5L846.7,134.6L845.4,134.3L842.5,134.3L822.5,135.3L821.1,135.8L811.1,142.8L803.7,148.8L798.7,148.8L796.5,148.2L793.9,141.1L793.1,139.9L791.8,139.3L778.9,137.5L773.6,130.5L767.2,121.0L759.2,114.0L757.9,113.4L748.9,111.6L745.6,107.0L744.6,106.2L744.0,106.0L744.0,106.6L743.4,106.5L664.6,106.5L664.0,106.7L664.0,106.3L663.3,106.5L662.3,107.4L661.0,109.6L642.5,110.5L636.4,111.5L616.6,111.5L615.4,111.8L611.9,113.5L588.5,114.5L586.7,115.3L583.4,118.6L570.4,119.5L568.7,120.3L565.4,123.6L544.5,124.5L543.0,125.0L539.7,127.5L508.5,128.5L506.7,129.3L503.4,132.6L490.4,133.5L489.0,134.0L485.7,136.5L440.3,136.5L437.0,134.0L435.4,133.5L385.6,133.5L379.2,135.2L372.6,139.4L361.6,151.4L354.9,161.5L348.8,176.9L343.5,191.9L337.4,222.2L335.0,237.9L335.0,291.5L336.9,291.2L337.9,290.3L338.3,289.0L339.6,271.3L340.4,256.4L343.3,241.6L345.5,226.7L351.4,197.1L356.6,182.4L362.4,167.8L368.5,158.5L379.1,146.9L384.5,143.6L388.7,142.5L431.7,142.5L435.0,145.0L436.6,145.5L489.4,145.5L491.0,145.0L494.4,142.4L507.6,141.5L509.3,140.7L512.5,137.5L543.5,136.5L545.0,136.0L548.3,133.5L569.5,132.5L571.3,131.7L574.6,128.4L587.6,127.5L589.3,126.7L592.6,123.5L615.5,122.5L616.6,122.2L620.0,120.5L639.4,120.5L645.7,119.5L664.0,118.6L664.0,118.2L665.5,118.1L666.8,117.7L667.7,116.8L668.9,114.7L739.3,114.7L742.4,119.0L744.0,120.0L744.0,120.6L753.4,122.5L760.6,128.8L766.4,137.6L772.4,145.6L773.2,146.3L774.2,146.7L786.6,148.4L789.1,155.4L789.8,156.5L791.0,157.1L795.0,158.1L807.4,158.2L809.1,157.6L817.0,151.2L826.3,144.7L841.3,143.9L844.4,148.5L845.3,149.4L846.6,149.7L849.4,149.7L851.1,149.1L856.4,144.7L861.7,144.7L868.8,150.0L876.6,157.8L882.6,164.7L883.5,165.5L884.6,165.7L888.0,165.6L896.0,163.6L897.3,162.9L900.6,159.6L913.6,158.7L914.6,158.4L918.0,156.7L956.1,156.7L967.6,161.5L979.3,165.4L985.9,171.0L987.6,171.7L990.4,171.7L992.3,170.9L998.3,164.9L1014.6,165.7L1017.8,165.7L1022.4,164.9L1028.9,165.5L1034.1,175.1L1038.0,186.8L1042.0,200.7L1042.9,202.1L1052.9,210.1L1054.6,210.7L1057.4,210.7L1059.0,210.2L1067.2,204.0L1074.7,197.4L1090.2,192.6L1100.3,185.6L1109.2,184.9L1121.0,187.4L1126.4,195.5L1127.8,196.6L1133.8,198.6L1137.4,198.7L1138.6,198.4L1139.5,197.7L1147.1,188.1L1154.5,184.5L1161.4,181.7L1167.0,185.2L1174.8,192.0L1176.6,192.7L1179.4,192.7L1180.6,192.4L1188.0,188.7L1195.4,192.4L1196.4,192.7L1208.9,193.6L1213.2,202.2L1214.2,203.3L1215.6,203.7L1218.4,203.7L1219.5,203.4L1220.5,202.7L1228.7,192.7L1272.7,192.7L1276.0,195.2L1277.6,195.7L1280.4,195.7L1294.8,193.7L1307.2,188.4L1318.4,192.4L1326.2,197.3L1327.3,197.7L1335.3,198.7L1338.4,198.7L1339.2,198.6L1344.4,196.9L1359.4,197.7L1374.5,199.6L1379.9,204.1L1381.6,204.7L1384.4,204.7L1386.2,204.0L1393.4,197.7L1408.9,197.7L1418.2,203.3L1428.6,207.5L1429.6,207.7L1432.4,207.7L1438.7,207.1L1445.6,214.8L1446.7,215.5L1454.1,218.3L1461.7,225.9L1463.3,226.7L1478.5,228.6L1484.4,233.4L1494.4,238.4L1495.6,238.7L1498.4,238.7L1507.5,238.0L1516.2,242.3L1523.5,247.7L1525.1,248.2L1527.9,248.2L1529.2,247.8L1529.3,239.2Z"/>
</g>
<rect x="372.8" y="583.6" width="155.6" height="8.9" fill="#000000"/>
<rect x="372.8" y="667.3" width="155.6" height="7.3" fill="#00A0FF"/>
<rect x="372.8" y="749.8" width="155.6" height="9.2" fill="#FF0080"/>
<rect x="372.8" y="834.5" width="155.6" height="6.4" fill="#FF8000"/>
<rect x="372.8" y="916.6" width="155.6" height="8.6" fill="#D633FF"/>
<text class="lg" x="544.0" y="610.5" font-size="65.5">Blank</text>
<text class="lg" x="542.6" y="693.1" font-size="66">50 mg/L</text>
<text class="lg" x="544.2" y="777.2" font-size="66">100 mg/L</text>
<text class="lg" x="545.4" y="859.7" font-size="66">150 mg/L</text>
<text class="lg" x="542.6" y="941.7" font-size="66">200 mg/L</text>
<text class="yt" x="312.6" y="135.7" font-size="84.5" text-anchor="end"><tspan dy="-1.2" textLength="56" lengthAdjust="spacingAndGlyphs">−</tspan><tspan dy="1.2" dx="-5.6">0.25</tspan></text>
<text class="yt" x="312.6" y="359.2" font-size="84.5" text-anchor="end"><tspan dy="0.6" textLength="56" lengthAdjust="spacingAndGlyphs">−</tspan><tspan dy="-0.6" dx="-5.6">0.30</tspan></text>
<text class="yt" x="312.6" y="583.0" font-size="84.5" text-anchor="end"><tspan dy="1.6" textLength="56" lengthAdjust="spacingAndGlyphs">−</tspan><tspan dy="-1.6" dx="-5.6">0.35</tspan></text>
<text class="yt" x="312.6" y="807.0" font-size="84.5" text-anchor="end"><tspan dy="1.6" textLength="56" lengthAdjust="spacingAndGlyphs">−</tspan><tspan dy="-1.6" dx="-5.6">0.40</tspan></text>
<text class="yt" x="312.6" y="1031.4" font-size="84.5" text-anchor="end"><tspan dy="1.3" textLength="56" lengthAdjust="spacingAndGlyphs">−</tspan><tspan dy="-1.3" dx="-5.6">0.45</tspan></text>
<text class="xt" x="333.5" y="1092.5" font-size="84.5" text-anchor="middle">0</text>
<text class="xt" x="663" y="1092.5" font-size="84.5" text-anchor="middle">1000</text>
<text class="xt" x="995.5" y="1092.5" font-size="84.5" text-anchor="middle">2000</text>
<text class="xt" x="1325.3" y="1092.5" font-size="84.5" text-anchor="middle">3000</text>
<text class="xl" x="816.5" y="1179.3" font-size="90.5" word-spacing="1.5" textLength="326" lengthAdjust="spacingAndGlyphs">Time (s)</text>
<text class="yl" transform="translate(80.6 855) rotate(-90) scale(1 1.028)" font-size="93">E<tspan font-size="58" dy="21.8" dx="0.5">ocp</tspan><tspan dy="-21.8" dx="1.5">/V</tspan><tspan dx="1.5" letter-spacing="-0.55"> (vs·SCE)</tspan></text>
</svg>
</body></html>
